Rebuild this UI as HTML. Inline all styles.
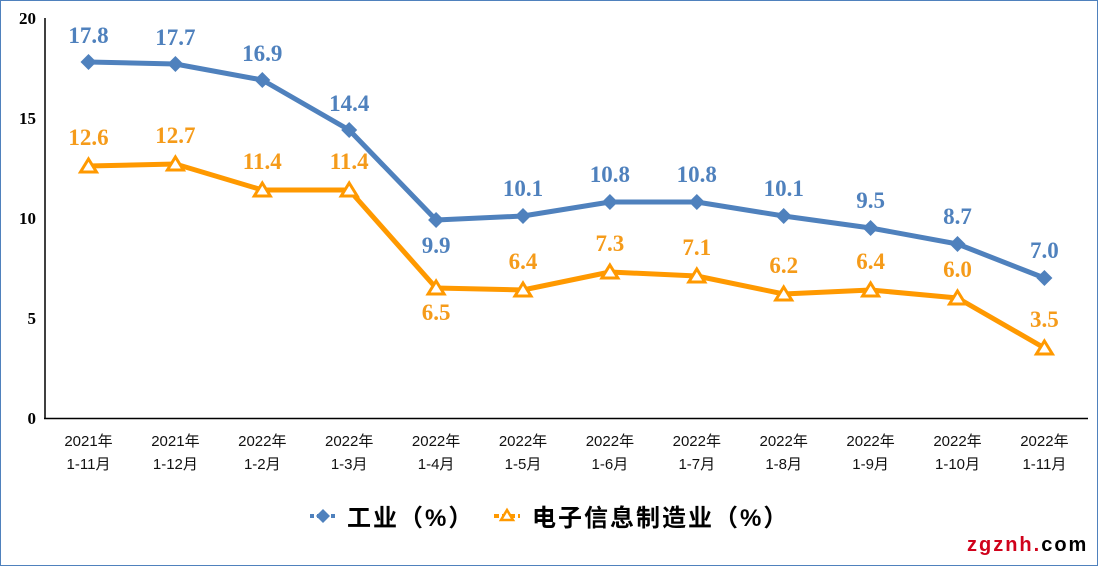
<!DOCTYPE html>
<html><head><meta charset="utf-8"><style>
html,body{margin:0;padding:0;background:#fff}
svg{display:block}
</style></head><body>
<svg width="1098" height="566" viewBox="0 0 1098 566" xmlns="http://www.w3.org/2000/svg">
<rect x="0.5" y="0.5" width="1097" height="565" fill="#fff" stroke="#4F81BD" stroke-width="1"/>
<g font-family="Liberation Serif, serif" font-weight="bold" font-size="17" fill="#000" text-anchor="end">
<text x="36" y="24">20</text>
<text x="36" y="124">15</text>
<text x="36" y="224">10</text>
<text x="36" y="324">5</text>
<text x="36" y="424">0</text>
</g>
<line x1="45" y1="18" x2="45" y2="419" stroke="#000" stroke-width="1.5"/>
<line x1="44" y1="418.5" x2="1088" y2="418.5" stroke="#000" stroke-width="1.5"/>
<g font-family="Liberation Sans, 'Noto Sans CJK SC', sans-serif" font-size="15" fill="#111" text-anchor="middle">
<text x="88.5" y="446">2021年</text><text x="88.5" y="469">1-11月</text>
<text x="175.4" y="446">2021年</text><text x="175.4" y="469">1-12月</text>
<text x="262.3" y="446">2022年</text><text x="262.3" y="469">1-2月</text>
<text x="349.2" y="446">2022年</text><text x="349.2" y="469">1-3月</text>
<text x="436.1" y="446">2022年</text><text x="436.1" y="469">1-4月</text>
<text x="523" y="446">2022年</text><text x="523" y="469">1-5月</text>
<text x="609.9" y="446">2022年</text><text x="609.9" y="469">1-6月</text>
<text x="696.8" y="446">2022年</text><text x="696.8" y="469">1-7月</text>
<text x="783.7" y="446">2022年</text><text x="783.7" y="469">1-8月</text>
<text x="870.6" y="446">2022年</text><text x="870.6" y="469">1-9月</text>
<text x="957.5" y="446">2022年</text><text x="957.5" y="469">1-10月</text>
<text x="1044.4" y="446">2022年</text><text x="1044.4" y="469">1-11月</text>
</g>
<polyline fill="none" stroke="#4F81BD" stroke-width="5" stroke-linejoin="round" points="88.5,62 175.4,64 262.3,80 349.2,130 436.1,220 523,216 609.9,202 696.8,202 783.7,216 870.6,228 957.5,244 1044.4,278"/>
<g fill="#4F81BD">
<polygon points="88.5,54 96.5,62 88.5,70 80.5,62"/>
<polygon points="175.4,56 183.4,64 175.4,72 167.4,64"/>
<polygon points="262.3,72 270.3,80 262.3,88 254.3,80"/>
<polygon points="349.2,122 357.2,130 349.2,138 341.2,130"/>
<polygon points="436.1,212 444.1,220 436.1,228 428.1,220"/>
<polygon points="523,208 531,216 523,224 515,216"/>
<polygon points="609.9,194 617.9,202 609.9,210 601.9,202"/>
<polygon points="696.8,194 704.8,202 696.8,210 688.8,202"/>
<polygon points="783.7,208 791.7,216 783.7,224 775.7,216"/>
<polygon points="870.6,220 878.6,228 870.6,236 862.6,228"/>
<polygon points="957.5,236 965.5,244 957.5,252 949.5,244"/>
<polygon points="1044.4,270 1052.4,278 1044.4,286 1036.4,278"/>
</g>
<polyline fill="none" stroke="#FF9900" stroke-width="5" stroke-linejoin="round" points="88.5,166 175.4,164 262.3,190 349.2,190 436.1,288 523,290 609.9,272 696.8,276 783.7,294 870.6,290 957.5,298 1044.4,348"/>
<g fill="#fff" stroke="#FF9900" stroke-width="3" stroke-linejoin="miter">
<polygon points="88.5,159 96.5,172 80.5,172"/>
<polygon points="175.4,157 183.4,170 167.4,170"/>
<polygon points="262.3,183 270.3,196 254.3,196"/>
<polygon points="349.2,183 357.2,196 341.2,196"/>
<polygon points="436.1,281 444.1,294 428.1,294"/>
<polygon points="523,283 531,296 515,296"/>
<polygon points="609.9,265 617.9,278 601.9,278"/>
<polygon points="696.8,269 704.8,282 688.8,282"/>
<polygon points="783.7,287 791.7,300 775.7,300"/>
<polygon points="870.6,283 878.6,296 862.6,296"/>
<polygon points="957.5,291 965.5,304 949.5,304"/>
<polygon points="1044.4,341 1052.4,354 1036.4,354"/>
</g>
<g font-family="Liberation Serif, serif" font-weight="bold" font-size="23" fill="#4F81BD" text-anchor="middle">
<text x="88.5" y="43">17.8</text>
<text x="175.4" y="45">17.7</text>
<text x="262.3" y="61">16.9</text>
<text x="349.2" y="111">14.4</text>
<text x="436.1" y="253">9.9</text>
<text x="523" y="196">10.1</text>
<text x="609.9" y="182">10.8</text>
<text x="696.8" y="182">10.8</text>
<text x="783.7" y="196">10.1</text>
<text x="870.6" y="208">9.5</text>
<text x="957.5" y="224">8.7</text>
<text x="1044.4" y="258">7.0</text>
</g>
<g font-family="Liberation Serif, serif" font-weight="bold" font-size="23" fill="#F59B1A" text-anchor="middle">
<text x="88.5" y="145">12.6</text>
<text x="175.4" y="143">12.7</text>
<text x="262.3" y="169">11.4</text>
<text x="349.2" y="169">11.4</text>
<text x="436.1" y="320">6.5</text>
<text x="523" y="269">6.4</text>
<text x="609.9" y="251">7.3</text>
<text x="696.8" y="255">7.1</text>
<text x="783.7" y="273">6.2</text>
<text x="870.6" y="269">6.4</text>
<text x="957.5" y="277">6.0</text>
<text x="1044.4" y="327">3.5</text>
</g>
<line x1="310" y1="516" x2="336" y2="516" stroke="#4F81BD" stroke-width="4" stroke-dasharray="4,3"/>
<polygon points="323,509 330,516 323,523 316,516" fill="#4F81BD"/>
<text x="347" y="526" font-family="Liberation Sans, 'Noto Sans CJK SC', sans-serif" font-weight="bold" font-size="24" letter-spacing="2" fill="#000">工业（%）</text>
<line x1="494" y1="516" x2="520" y2="516" stroke="#FF9900" stroke-width="4" stroke-dasharray="5,3"/>
<polygon points="507,510 513,520 501,520" fill="#fff" stroke="#FF9900" stroke-width="2.5"/>
<text x="532" y="526" font-family="Liberation Sans, 'Noto Sans CJK SC', sans-serif" font-weight="bold" font-size="24" letter-spacing="2" fill="#000">电子信息制造业（%）</text>
<text x="967" y="551" font-family="Liberation Sans, sans-serif" font-weight="bold" font-size="20" letter-spacing="2"><tspan fill="#D0021B">zgznh.</tspan><tspan fill="#000">com</tspan></text>
</svg>
</body></html>
